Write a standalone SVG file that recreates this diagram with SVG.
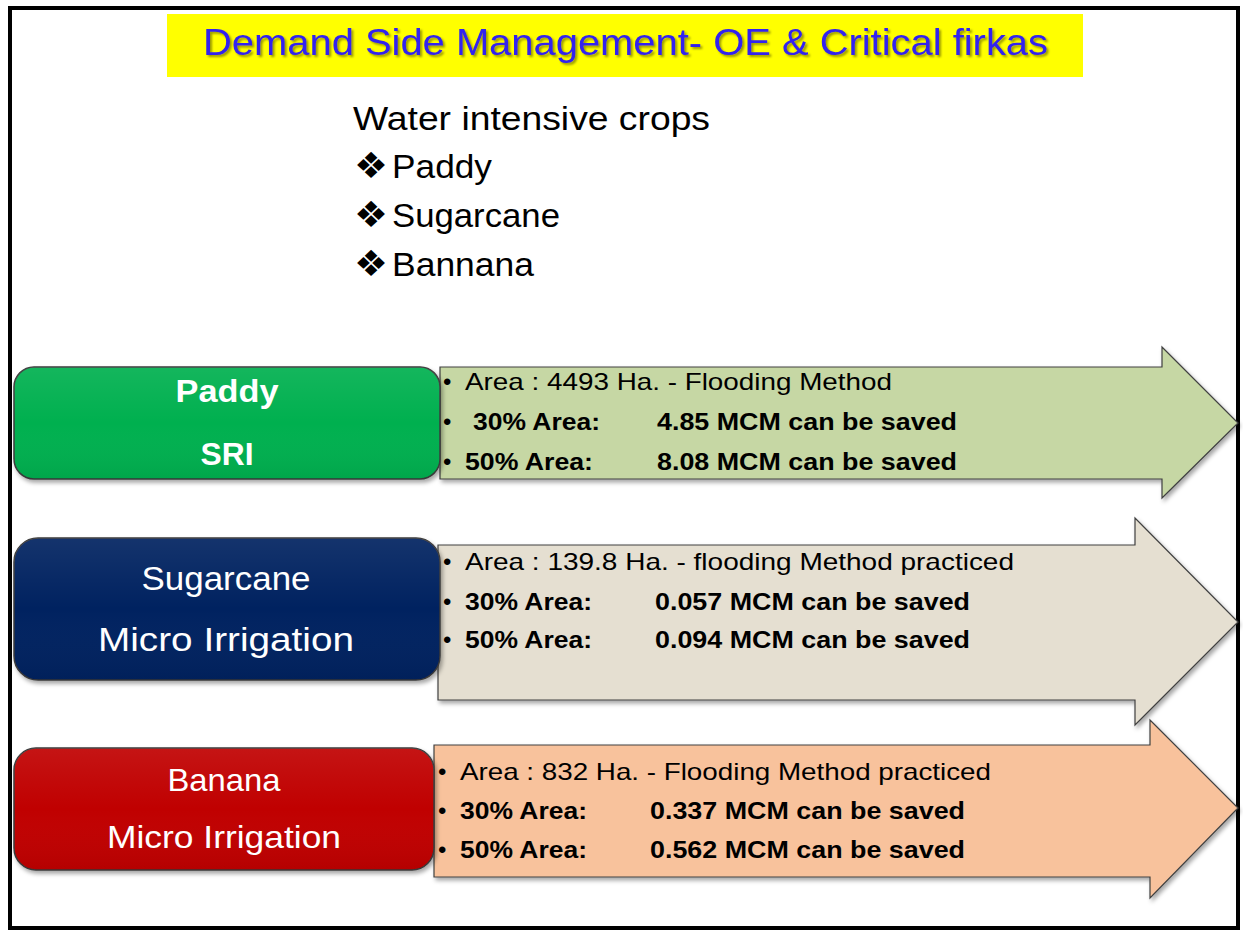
<svg xmlns="http://www.w3.org/2000/svg" width="1243" height="931" viewBox="0 0 1243 931">
<defs>
<filter id="sh" x="-5%" y="-5%" width="115%" height="125%">
<feDropShadow dx="2" dy="3" stdDeviation="2" flood-color="#000" flood-opacity="0.35"/>
</filter>
<filter id="tsh" x="-5%" y="-20%" width="110%" height="150%">
<feDropShadow dx="2" dy="2" stdDeviation="1" flood-color="#000" flood-opacity="0.4"/>
</filter>
<linearGradient id="gloss" x1="0" y1="0" x2="0" y2="1">
<stop offset="0" stop-color="#fff" stop-opacity="0.08"/>
<stop offset="0.5" stop-color="#fff" stop-opacity="0"/>
<stop offset="1" stop-color="#000" stop-opacity="0.06"/>
</linearGradient>
</defs>
<style>
.f{font-family:"Liberation Sans",Arial,sans-serif}
.box{stroke:#3a3a3a;stroke-width:1.5}
.arr{stroke:#404040;stroke-width:1.2}
.it{font-size:24px;fill:#000}
.b{font-weight:bold}
.wt{fill:#fff;text-anchor:middle}
.li{font-size:33px;fill:#000}
.dm{font-family:"DejaVu Sans",sans-serif;font-size:36px;fill:#000}
</style>
<rect width="1243" height="931" fill="#fff"/>
<rect x="10" y="8" width="1228" height="920" fill="none" stroke="#000" stroke-width="4"/>

<g id="title">
<rect x="167" y="14" width="916" height="63" fill="#ffff00"/>
<text class="f" x="203" y="55" font-size="36" fill="#3020f0" filter="url(#tsh)" textLength="845" lengthAdjust="spacingAndGlyphs">Demand Side Management- OE &amp; Critical firkas</text>
</g>

<g id="crops-list" class="f">
<text class="li" x="353" y="130" textLength="357" lengthAdjust="spacingAndGlyphs">Water intensive crops</text>
<text class="dm" x="354" y="178" textLength="34" lengthAdjust="spacingAndGlyphs">❖</text>
<text class="li" x="392" y="178" textLength="100" lengthAdjust="spacingAndGlyphs">Paddy</text>
<text class="dm" x="354" y="227" textLength="34" lengthAdjust="spacingAndGlyphs">❖</text>
<text class="li" x="392" y="227" textLength="168" lengthAdjust="spacingAndGlyphs">Sugarcane</text>
<text class="dm" x="354" y="276" textLength="34" lengthAdjust="spacingAndGlyphs">❖</text>
<text class="li" x="392" y="276" textLength="142" lengthAdjust="spacingAndGlyphs">Bannana</text>
</g>

<g id="connectors">
<path id="arrow-paddy" class="arr" d="M440,367 H1162 V347 L1238,423 L1162,498 V479 H440 Z" fill="#c6d7a4" filter="url(#sh)"/>
<path id="arrow-sugarcane" class="arr" d="M438,545 H1135 V518 L1238,622 L1135,725 V700 H438 Z" fill="#e5dfd1" filter="url(#sh)"/>
<path id="arrow-banana" class="arr" d="M434,745 H1150 V720 L1238,808 L1150,898 V877 H434 Z" fill="#f8c29c" filter="url(#sh)"/>
</g>

<g id="paddy" class="f">
<rect class="box" x="14" y="367" width="426" height="112" rx="20" fill="#00b050" filter="url(#sh)"/>
<rect x="14" y="367" width="426" height="112" rx="20" fill="url(#gloss)"/>
<text class="wt b" x="227" y="402" font-size="32" textLength="103" lengthAdjust="spacingAndGlyphs">Paddy</text>
<text class="wt b" x="227" y="465" font-size="32" textLength="53" lengthAdjust="spacingAndGlyphs">SRI</text>
</g>
<g id="paddy-info" class="f it">
<text x="443" y="390">•</text>
<text x="465" y="390" textLength="427" lengthAdjust="spacingAndGlyphs">Area : 4493 Ha. - Flooding Method</text>
<text x="443" y="430">•</text>
<text class="b" x="473" y="430" textLength="127" lengthAdjust="spacingAndGlyphs">30% Area:</text>
<text class="b" x="657" y="430" textLength="300" lengthAdjust="spacingAndGlyphs">4.85 MCM can be saved</text>
<text x="443" y="470">•</text>
<text class="b" x="465" y="470" textLength="128" lengthAdjust="spacingAndGlyphs">50% Area:</text>
<text class="b" x="657" y="470" textLength="300" lengthAdjust="spacingAndGlyphs">8.08 MCM can be saved</text>
</g>

<g id="sugarcane" class="f">
<rect class="box" x="14" y="538" width="426" height="142" rx="24" fill="#002060" filter="url(#sh)"/>
<rect x="14" y="538" width="426" height="142" rx="24" fill="url(#gloss)"/>
<text class="wt" x="226" y="590" font-size="34" textLength="169" lengthAdjust="spacingAndGlyphs">Sugarcane</text>
<text class="wt" x="226" y="651" font-size="34" textLength="256" lengthAdjust="spacingAndGlyphs">Micro Irrigation</text>
</g>
<g id="sugarcane-info" class="f it">
<text x="443" y="570">•</text>
<text x="465" y="570" textLength="549" lengthAdjust="spacingAndGlyphs">Area : 139.8 Ha. - flooding Method practiced</text>
<text x="443" y="610">•</text>
<text class="b" x="465" y="610" textLength="127" lengthAdjust="spacingAndGlyphs">30% Area:</text>
<text class="b" x="655" y="610" textLength="315" lengthAdjust="spacingAndGlyphs">0.057 MCM can be saved</text>
<text x="443" y="648">•</text>
<text class="b" x="465" y="648" textLength="127" lengthAdjust="spacingAndGlyphs">50% Area:</text>
<text class="b" x="655" y="648" textLength="315" lengthAdjust="spacingAndGlyphs">0.094 MCM can be saved</text>
</g>

<g id="banana" class="f">
<rect class="box" x="14" y="748" width="420" height="122" rx="22" fill="#c00000" filter="url(#sh)"/>
<rect x="14" y="748" width="420" height="122" rx="22" fill="url(#gloss)"/>
<text class="wt" x="224" y="791" font-size="32" textLength="113" lengthAdjust="spacingAndGlyphs">Banana</text>
<text class="wt" x="224" y="848" font-size="32" textLength="234" lengthAdjust="spacingAndGlyphs">Micro Irrigation</text>
</g>
<g id="banana-info" class="f it">
<text x="438" y="780">•</text>
<text x="460" y="780" textLength="531" lengthAdjust="spacingAndGlyphs">Area : 832 Ha. - Flooding Method practiced</text>
<text x="438" y="819">•</text>
<text class="b" x="460" y="819" textLength="127" lengthAdjust="spacingAndGlyphs">30% Area:</text>
<text class="b" x="650" y="819" textLength="315" lengthAdjust="spacingAndGlyphs">0.337 MCM can be saved</text>
<text x="438" y="858">•</text>
<text class="b" x="460" y="858" textLength="127" lengthAdjust="spacingAndGlyphs">50% Area:</text>
<text class="b" x="650" y="858" textLength="315" lengthAdjust="spacingAndGlyphs">0.562 MCM can be saved</text>
</g>
</svg>
